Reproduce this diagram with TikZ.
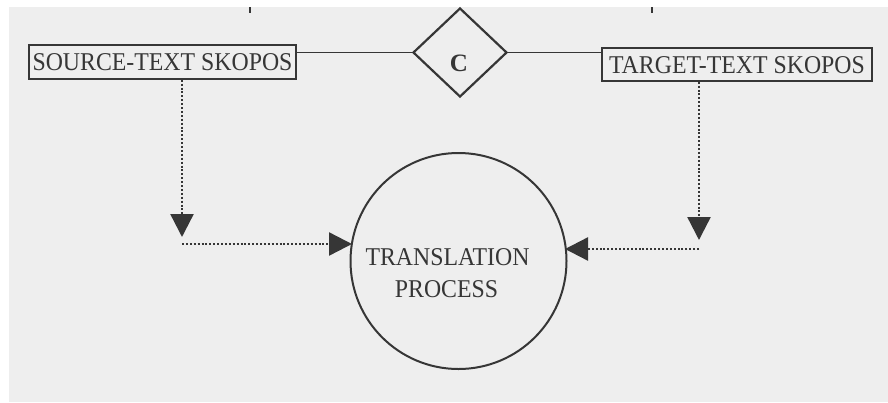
\documentclass[tikz,border=0pt]{standalone}
\usepackage{fontspec}
\setmainfont{Liberation Serif}
\newfontfamily\tallserif[FakeStretch=0.93]{Liberation Serif}
\usetikzlibrary{arrows.meta,shapes.geometric}
\definecolor{paper}{HTML}{EEEEEE}
\definecolor{ink}{HTML}{363636}
\newcommand{\labelfont}{\tallserif\fontsize{25.6}{30}\selectfont}
\begin{document}
\begin{tikzpicture}[x=1pt,y=-1pt,
  every node/.style={text=ink},
  skoposbox/.style={draw=ink,line width=1.4pt,inner sep=0pt,
    text height=17pt,text depth=0pt,font=\labelfont},
  solidlink/.style={draw=ink,line width=1.6pt},
  dotlink/.style={draw=ink,line width=2.4pt,dash pattern=on 2pt off 1.9pt,
    -{Triangle[length=23pt,width=23pt]}},
  caption/.style={font=\labelfont,inner sep=0pt,anchor=base}]
% page: white margin at top and left, grey paper elsewhere
\useasboundingbox (0,0) rectangle (888,402);
\fill[white] (0,0) rectangle (888,402);
\fill[paper] (9,7) rectangle (888,402);

% stubs of the lines arriving from above
\coordinate (stubA) at (250,7);
\coordinate (stubB) at (652,7);
\draw[solidlink] (stubA) -- ++(0,6);
\draw[solidlink] (stubB) -- ++(0,6);

% the two skopos boxes
\node[skoposbox,minimum width=267pt,minimum height=34pt] (src) at (162.5,62) {SOURCE-TEXT SKOPOS};
\node[skoposbox,minimum width=270pt,minimum height=33pt] (tgt) at (737,64.5) {TARGET-TEXT SKOPOS};

% comparison diamond
\node[draw=ink,line width=2.2pt,shape=diamond,inner sep=0pt,
  minimum width=94pt,minimum height=89pt] (dia) at (460,52.5) {};
\node[font=\fontsize{25}{28}\selectfont\bfseries,inner sep=0pt] (cmp) at (459,63) {C};

\draw[solidlink] (src.east |- dia.west) -- (dia.west);
\draw[solidlink] (dia.east) -- (dia.east -| tgt.west);

% translation process
\node[draw=ink,line width=2pt,circle,minimum size=216pt,inner sep=0pt] (proc) at (458.5,261) {};
\node[caption] (procA) at (447.5,265) {TRANSLATION};
\node[caption] (procB) at (446.5,297) {PROCESS};

% dotted feeds into the process
\coordinate (sdrop) at (182,237);
\coordinate (sbend) at (182,244);
\coordinate (tdrop) at (699,240);
\coordinate (tbend) at (699,249);

\draw[dotlink] (src.south -| sdrop) -- (sdrop);
\draw[dotlink] (sbend) -- (352,244) coordinate (sin);
\draw[dotlink] (tgt.south -| tdrop) -- (tdrop);
\draw[dotlink] (tbend) -- (565,249) coordinate (tin);
\end{tikzpicture}
\end{document}
